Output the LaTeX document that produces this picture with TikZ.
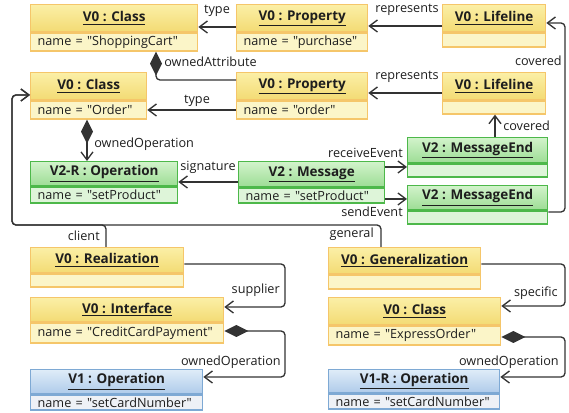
\documentclass[tikz,border=0pt]{standalone}
\usepackage{fontspec}
\setmainfont{Open Sans}
% plain family without TeX ligature mapping, so " stays a straight quote
\newfontfamily\objfont{Open Sans}
\usetikzlibrary{arrows.meta}

\definecolor{txt}{HTML}{1E1E1E}
\definecolor{linec}{HTML}{333333}
\definecolor{vzborder}{HTML}{F5C66A}
\definecolor{vztop}{HTML}{FBEFA6}
\definecolor{vzbot}{HTML}{F3DB74}
\definecolor{vzfill}{HTML}{FBF5C8}
\definecolor{vtborder}{HTML}{4DB84A}
\definecolor{vttop}{HTML}{D2F3CB}
\definecolor{vtbot}{HTML}{9DDD95}
\definecolor{vtfill}{HTML}{DEF5D9}
\definecolor{voborder}{HTML}{7EA9D4}
\definecolor{votop}{HTML}{DFECF8}
\definecolor{vobot}{HTML}{AFCBEA}
\definecolor{vofill}{HTML}{EEF1F6}

\newcommand\diagfont{\objfont\fontsize{9.5}{11.4}\selectfont}
\newcommand\headfont{\objfont\fontsize{10.1}{12}\selectfont\bfseries}

% one object box: header node (#1-h) and slot node (#1-b)
% #1 name, #2 palette, #3 x, #4 y, #5 width, #6 header height, #7 slot height, #8 title, #9 slot text
\newcommand\umlobj[9]{%
  \pgfmathsetlengthmacro\objtw{#5*0.75pt-10.5pt}%
  \node[#2head, anchor=north west, minimum width=#5*0.75pt, minimum height=#6*0.75pt]
    (#1-h) at (#3,#4) {\underline{#8}};
  \node[#2body, anchor=north west, text width=\objtw, minimum height=#7*0.75pt]
    (#1-b) at (#1-h.south west) {#9};
}

\tikzset{
  objhead/.style={line width=1pt, inner sep=0pt, text=txt, font=\headfont},
  objbody/.style={line width=1pt, inner xsep=5.25pt, inner ysep=0pt, align=left, text=txt, font=\diagfont},
  vzhead/.style={objhead, draw=vzborder, top color=vztop, bottom color=vzbot},
  vzbody/.style={objbody, draw=vzborder, fill=vzfill},
  vthead/.style={objhead, draw=vtborder, top color=vttop, bottom color=vtbot},
  vtbody/.style={objbody, draw=vtborder, fill=vtfill},
  vohead/.style={objhead, draw=voborder, top color=votop, bottom color=vobot},
  vobody/.style={objbody, draw=voborder, fill=vofill},
  link/.style={draw=linec, line width=1pt, rounded corners=3pt},
  assoc/.style={link, -{Straight Barb[length=6pt,width=9pt]}},
  compo/.style={link, {Diamond[length=18pt,width=9pt]}-},
  compoarrow/.style={link, {Diamond[length=18pt,width=9pt]}-{Straight Barb[length=6pt,width=9pt]}},
  lbl/.style={inner sep=0pt, text=txt, font=\diagfont},
}

\begin{document}
\begin{tikzpicture}[x=0.75pt, y=-0.75pt]
\useasboundingbox (0,0) rectangle (569,413);

% objects
\umlobj{sc}{vz}{30}{4}{167}{27}{18}{V0 : Class}{name = "ShoppingCart"}
\umlobj{pp}{vz}{236}{4}{131}{27}{18}{V0 : Property}{name = "purchase"}
\umlobj{lla}{vz}{442}{4}{103}{27}{14}{V0 : Lifeline}{}
\umlobj{co}{vz}{30}{72}{116}{27}{18}{V0 : Class}{name = "Order"}
\umlobj{po}{vz}{236}{72}{131}{27}{18}{V0 : Property}{name = "order"}
\umlobj{llb}{vz}{442}{72}{103}{27}{13}{V0 : Lifeline}{}
\umlobj{op}{vt}{30}{161}{147}{24}{16}{V2-R : Operation}{name = "setProduct"}
\umlobj{msg}{vt}{238}{161}{146}{25}{15}{V2 : Message}{name = "setProduct"}
\umlobj{mea}{vt}{407}{137}{140}{25}{13}{V2 : MessageEnd}{}
\umlobj{meb}{vt}{407}{185}{140}{24}{13}{V2 : MessageEnd}{}
\umlobj{real}{vz}{30}{247}{153}{25}{13}{V0 : Realization}{}
\umlobj{iface}{vz}{30}{297}{193}{24}{20}{V0 : Interface}{name = "CreditCardPayment"}
\umlobj{vop}{vo}{30}{369}{172}{24}{15}{V1 : Operation}{name = "setCardNumber"}
\umlobj{gen}{vz}{328}{247}{152}{26}{14}{V0 : Generalization}{}
\umlobj{eo}{vz}{328}{297}{172}{27}{19}{V0 : Class}{name = "ExpressOrder"}
\umlobj{vrop}{vo}{328}{369}{171}{23}{15}{V1-R : Operation}{name = "setCardNumber"}

% links of the upper part
\draw[assoc] (pp-h.west |- 0,27) -- (sc-h.east |- 0,27);
\node[lbl] (l-typea) at (217,11) {type};
\draw[assoc] (lla-h.west |- 0,26) -- (pp-h.east |- 0,26);
\node[lbl] (l-repa) at (407,10) {represents};
\draw[compo] (156,0 |- sc-b.south) |- (po-h.west |- 0,80);
\node[lbl, anchor=west] (l-attr) at (164,62) {ownedAttribute};
\draw[assoc] (po-b.west |- 0,110) -- (co-b.east |- 0,110);
\node[lbl] (l-typeb) at (197,101) {type};
\draw[assoc] (llb-h.west |- 0,93) -- (po-h.east |- 0,93);
\node[lbl] (l-repb) at (407,77) {represents};
\draw[assoc] (meb-b.east |- 0,212) -- (565,212) |- (lla-h.east |- 0,23);
\node[lbl, anchor=east] (l-cova) at (562,61) {covered};
\draw[assoc] (495,0 |- mea-h.north) -- (495,0 |- llb-b.south);
\node[lbl, anchor=west] (l-covb) at (503,126) {covered};
\draw[compoarrow] (87,0 |- co-b.south) -- (87,0 |- op-h.north);
\node[lbl, anchor=west] (l-opa) at (94,144) {ownedOperation};
\draw[assoc] (msg-h.west |- 0,182) -- (op-h.east |- 0,182);
\node[lbl] (l-sig) at (208,167) {signature};
\draw[assoc] (msg-h.east |- 0,167) -- (mea-b.west |- 0,167);
\node[lbl, anchor=east] (l-recv) at (403,153) {receiveEvent};
\draw[assoc] (msg-b.east |- 0,199) -- (meb-h.west |- 0,199);
\node[lbl, anchor=east] (l-send) at (403,212) {sendEvent};

% realization and generalization
\draw[assoc] (381,0 |- gen-h.north) |- (12,225) |- (co-h.west |- 0,95);
\draw[assoc] (106,0 |- real-h.north) |- (12,225) |- (co-h.west |- 0,95);
\node[lbl, anchor=east] (l-client) at (100,236) {client};
\node[lbl, anchor=east] (l-general) at (374,234) {general};
\draw[assoc] (real-h.east |- 0,264) -- (285,264) |- (iface-h.east |- 0,307);
\node[lbl, anchor=east] (l-supp) at (280,290) {supplier};
\draw[compoarrow] (iface-b.east |- 0,331) -- (285,331) |- (vop-h.east |- 0,377);
\node[lbl, anchor=east] (l-opb) at (281,362) {ownedOperation};
\draw[assoc] (gen-h.east |- 0,264) -- (565,264) |- (eo-h.east |- 0,306);
\node[lbl, anchor=east] (l-spec) at (558,293) {specific};
\draw[compoarrow] (eo-b.east |- 0,337) -- (565,337) |- (vrop-h.east |- 0,377);
\node[lbl, anchor=east] (l-opc) at (559,362) {ownedOperation};
\end{tikzpicture}
\end{document}
